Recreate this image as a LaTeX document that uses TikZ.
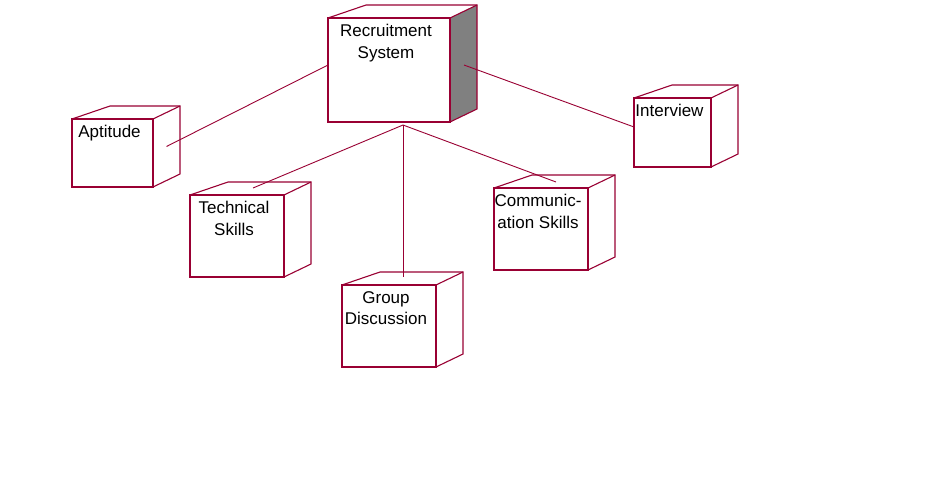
\documentclass[tikz,border=0pt]{standalone}
\usepackage{fontspec}
\setmainfont{Liberation Sans}
\definecolor{rosered}{RGB}{153,0,51}
\definecolor{rosegray}{RGB}{128,128,128}
\newcommand\rosenode[7]{%
 \node[front, minimum width=#4pt-#2pt, minimum height=#5pt-#3pt] (#1) at ({(#2+#4)/2},{(#3+#5)/2}) {};
 \fill[#7] (#1.north east) -- ([shift={(27,-13)}]#1.north east) -- ([shift={(27,-13)}]#1.south east) -- (#1.south east) -- cycle;
 \draw[edge] (#1.north west) -- ([shift={(38,-13)}]#1.north west) -- ([shift={(27,-13)}]#1.north east) -- ([shift={(27,-13)}]#1.south east) -- (#1.south east);
 \draw[edge] (#1.north east) -- ([shift={(27,-13)}]#1.north east);
 \draw[edge] (#1.north west) rectangle (#1.south east);
 \node[lbl] (#1-t) at ([shift={(-3,6.3)}]#1.north) {#6};
}
\begin{document}
\begin{tikzpicture}[x=1pt,y=-1pt,
  front/.style={draw=rosered, line width=1.1pt, fill=white, inner sep=0pt, outer sep=0pt, rectangle},
  edge/.style={draw=rosered, line width=1.1pt, line join=miter},
  conn/.style={draw=rosered, line width=0.9pt},
  lbl/.style={inner sep=0pt, anchor=north, align=center, font=\fontsize{17}{21.5}\selectfont, text=black}]
\useasboundingbox[fill=white] (0,0) rectangle (936,493);
% nodes
\rosenode{rs}{328}{18}{450}{122}{Recruitment\\System}{rosegray}
\rosenode{apt}{72}{119}{153}{187}{Aptitude}{white}
\rosenode{tech}{190}{195}{284}{277}{Technical\\Skills}{white}
\rosenode{gd}{342}{285}{436}{367}{Group\\Discussion}{white}
\rosenode{cs}{494}{188}{588}{270}{Communic-\\ation Skills}{white}
\rosenode{iv}{634}{98}{711}{167}{Interview}{white}
% ports
\coordinate (rsL) at (328,65);
\coordinate (rsR) at (464,65);
\coordinate (rsB) at (403,125);
\coordinate (aptP) at ([shift={(13.5,-6.5)}]apt.east);
\coordinate (ivP) at (634,127);
\coordinate (techP) at (253,188);
\coordinate (gdP) at (403,277);
\coordinate (csP) at (556,182);
% connectors
\draw[conn] (rsL) -- (aptP);
\draw[conn] (rsR) -- (ivP);
\draw[conn] (rsB) -- (techP);
\draw[conn] (rsB) -- (gdP);
\draw[conn] (rsB) -- (csP);
\end{tikzpicture}
\end{document}
